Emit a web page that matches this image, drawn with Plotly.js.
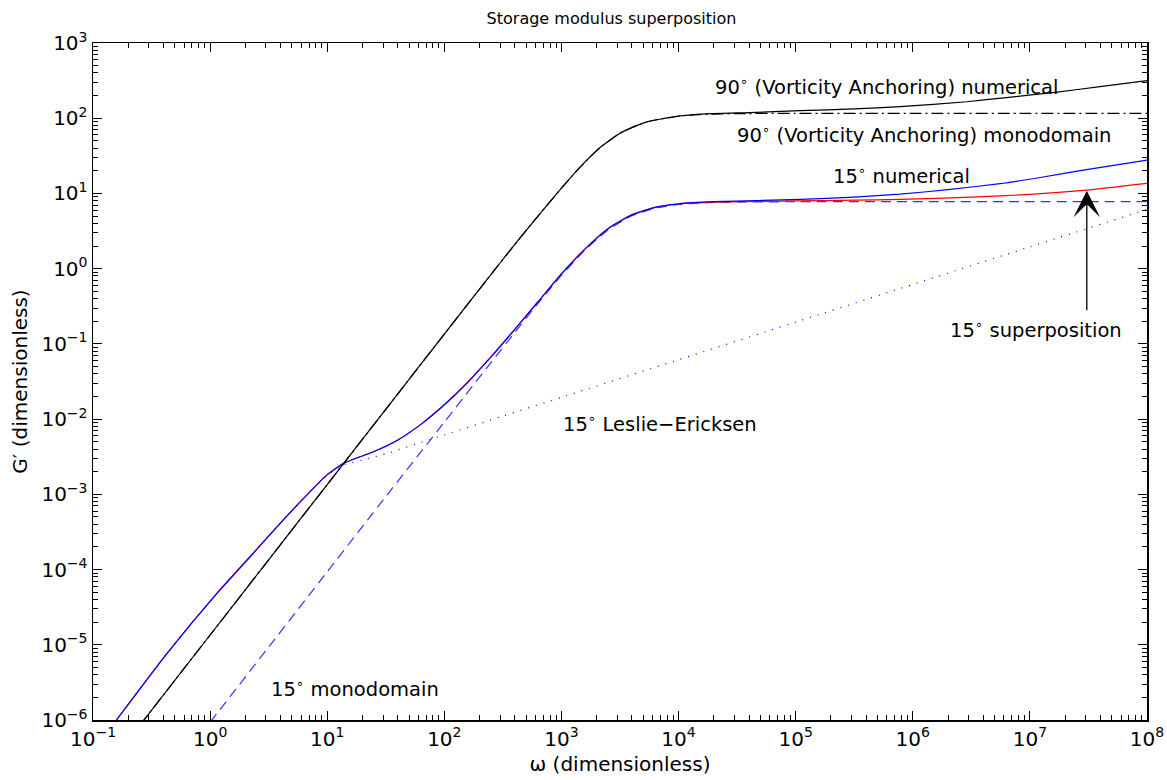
<!DOCTYPE html>
<html>
<head>
<meta charset="utf-8">
<script src="https://cdn.plot.ly/plotly-3.0.1.min.js"></script>
<style>html,body{margin:0;padding:0;background:#fff;}#chart{width:1167px;height:780px;}</style>
</head>
<body>
<div id="chart"></div>
<script>
// ---- Data (stored as log10 of omega and log10 of G') ----
// 90 deg (Vorticity Anchoring) numerical
const num90LogW = [-0.60, 0.0, 0.5, 1.0, 1.5, 2.0, 2.362, 2.6, 2.8, 3.0, 3.159, 3.33, 3.5, 3.6, 3.728, 3.85, 4.013, 4.27, 4.6, 5.038, 5.5, 5.891, 6.461, 6.8, 7.215, 7.6, 8.0];
const num90LogG = [-6.07, -4.87, -3.87, -2.87, -1.87, -0.87, -0.15, 0.32, 0.70, 1.07, 1.35, 1.61, 1.80, 1.875, 1.952, 1.99, 2.03, 2.06, 2.075, 2.10, 2.124, 2.153, 2.219, 2.275, 2.344, 2.42, 2.499];
// 90 deg (Vorticity Anchoring) monodomain
const mono90LogW = [-0.60, 0.0, 0.5, 1.0, 1.5, 2.0, 2.362, 2.6, 2.8, 3.0, 3.159, 3.33, 3.5, 3.6, 3.728, 3.85, 4.013, 4.27, 4.6, 5.0, 6.0, 7.0, 8.0];
const mono90LogG = [-6.07, -4.87, -3.87, -2.87, -1.87, -0.87, -0.15, 0.32, 0.70, 1.07, 1.35, 1.61, 1.80, 1.875, 1.952, 1.99, 2.03, 2.055, 2.062, 2.065, 2.065, 2.065, 2.065];
// 15 deg numerical
const num15LogW = [-0.80, -0.371, 0.056, 0.341, 0.625, 0.825, 0.996, 1.137, 1.28, 1.4, 1.6, 1.8, 2.0, 2.2, 2.4, 2.6, 2.8, 3.0, 3.2, 3.4, 3.6, 3.8, 4.0, 4.3, 5.038, 5.5, 5.89, 6.3, 6.746, 7.1, 7.457, 8.0];
const num15LogG = [-6.00, -5.12, -4.32, -3.83, -3.34, -3.01, -2.745, -2.59, -2.50, -2.43, -2.28, -2.07, -1.81, -1.51, -1.17, -0.81, -0.44, -0.07, 0.26, 0.535, 0.715, 0.815, 0.862, 0.89, 0.92, 0.952, 0.99, 1.05, 1.13, 1.215, 1.311, 1.444];
// 15 deg superposition
const sup15LogW = [-0.80, -0.371, 0.056, 0.341, 0.625, 0.825, 0.996, 1.137, 1.28, 1.4, 1.6, 1.8, 2.0, 2.2, 2.4, 2.6, 2.8, 3.0, 3.2, 3.4, 3.6, 3.8, 4.0, 4.3, 5.0, 5.5, 5.89, 6.5, 7.0, 7.486, 8.0];
const sup15LogG = [-6.00, -5.12, -4.32, -3.83, -3.34, -3.01, -2.745, -2.59, -2.50, -2.43, -2.28, -2.07, -1.81, -1.51, -1.17, -0.81, -0.44, -0.07, 0.26, 0.535, 0.715, 0.815, 0.86, 0.885, 0.90, 0.91, 0.922, 0.95, 0.987, 1.045, 1.134];
// 15 deg monodomain
const mono15LogW = [0.0, 0.5, 1.0, 1.5, 2.0, 2.4, 2.6, 2.8, 3.0, 3.2, 3.4, 3.6, 3.8, 4.0, 4.3, 4.6, 5.0, 6.0, 7.0, 8.0];
const mono15LogG = [-6.03, -5.03, -4.03, -3.03, -2.04, -1.245, -0.85, -0.46, -0.09, 0.246, 0.518, 0.703, 0.805, 0.854, 0.88, 0.887, 0.89, 0.89, 0.89, 0.89];
// 15 deg Leslie-Ericksen
const le15LogW = [-0.80, -0.371, 0.056, 0.341, 0.625, 0.825, 0.996, 1.137, 1.3, 1.5, 2.0, 2.5, 3.0, 4.0, 5.0, 6.0, 7.0, 8.0];
const le15LogG = [-6.00, -5.12, -4.32, -3.83, -3.34, -3.01, -2.75, -2.61, -2.545, -2.46, -2.21, -1.96, -1.71, -1.21, -0.71, -0.21, 0.29, 0.787];

// Axis ticks
const xTickExp = [-1, 0, 1, 2, 3, 4, 5, 6, 7, 8];
const yTickExp = [-6, -5, -4, -3, -2, -1, 0, 1, 2, 3];
const xTickLabels = ['10<sup>\u22121</sup>','10<sup>0</sup>','10<sup>1</sup>','10<sup>2</sup>','10<sup>3</sup>','10<sup>4</sup>','10<sup>5</sup>','10<sup>6</sup>','10<sup>7</sup>','10<sup>8</sup>'];
const yTickLabels = ['10<sup>\u22126</sup>','10<sup>\u22125</sup>','10<sup>\u22124</sup>','10<sup>\u22123</sup>','10<sup>\u22122</sup>','10<sup>\u22121</sup>','10<sup>0</sup>','10<sup>1</sup>','10<sup>2</sup>','10<sup>3</sup>'];

const pw = a => a.map(v => Math.pow(10, v));
function minorVals(exps) {
  const out = [];
  for (let i = 0; i < exps.length - 1; i++) for (let m = 2; m <= 9; m++) out.push(m * Math.pow(10, exps[i]));
  return out;
}

const FONT = 'DejaVu Sans, Liberation Sans, Arial, sans-serif';
const sp = {shape: 'spline', smoothing: 0.5};
const traces = [
  {x: pw(le15LogW), y: pw(le15LogG), mode: 'lines', line: Object.assign({color: '#0000ff', width: 1.2, dash: '1px,7px'}, sp)},
  {x: pw(mono15LogW), y: pw(mono15LogG), mode: 'lines', line: Object.assign({color: '#3333ff', width: 1.2, dash: '10px,6px'}, sp)},
  {x: pw(sup15LogW), y: pw(sup15LogG), mode: 'lines', line: Object.assign({color: '#ff0000', width: 1.2}, sp)},
  {x: pw(num15LogW), y: pw(num15LogG), mode: 'lines', line: Object.assign({color: '#0000ff', width: 1.2}, sp)},
  {x: pw(mono90LogW), y: pw(mono90LogG), mode: 'lines', line: Object.assign({color: '#000000', width: 1.2, dash: '12px,4px,2px,4px'}, sp)},
  {x: pw(num90LogW), y: pw(num90LogG), mode: 'lines', line: Object.assign({color: '#000000', width: 1.2}, sp)}
];

const deg = '<sup>\u2218</sup>';
const annFont = {family: FONT, size: 19.5, color: '#000'};
function label(text, lx, ly) {
  return {text: text, x: lx, y: ly, xref: 'x', yref: 'y', xanchor: 'left', yanchor: 'middle', showarrow: false, font: annFont};
}
const annotations = [
  label('90' + deg + ' (Vorticity Anchoring) numerical', 4.29, 2.43),
  label('90' + deg + ' (Vorticity Anchoring) monodomain', 4.485, 1.79),
  label('15' + deg + ' numerical', 5.30, 1.245),
  label('15' + deg + ' superposition', 6.30, -0.80),
  label('15' + deg + ' Leslie\u2212Ericksen', 3.0, -2.05),
  label('15' + deg + ' monodomain', 0.50, -5.58),
  {x: 7.486, y: 1.036, xref: 'x', yref: 'y', text: '', showarrow: true, axref: 'pixel', ayref: 'pixel', ax: 0, ay: 121,
   arrowhead: 3, arrowsize: 3.4, arrowwidth: 1.3, arrowcolor: '#000'}
];

const axisCommon = {
  type: 'log', showgrid: false, zeroline: false, showline: true, linecolor: '#000', linewidth: 1.5,
  mirror: 'allticks', ticks: 'inside', ticklen: 9, tickwidth: 1, tickcolor: '#000',
  tickmode: 'array', tickfont: {family: FONT, size: 20, color: '#000'}
};

const layout = {
  width: 1167, height: 780,
  margin: {l: 93, r: 20, t: 43, b: 60},
  paper_bgcolor: '#fff', plot_bgcolor: '#fff',
  showlegend: false,
  font: {family: FONT, color: '#000'},
  title: {text: 'Storage modulus superposition', font: {family: FONT, size: 16, color: '#000'}, x: 0.524, xanchor: 'center', y: 0.977, yanchor: 'middle'},
  xaxis: Object.assign({}, axisCommon, {
    range: [-1, 8], tickvals: pw(xTickExp), ticktext: xTickLabels,
    minor: {tickmode: 'array', tickvals: minorVals(xTickExp), ticks: 'inside', ticklen: 5, tickcolor: '#000', showgrid: false},
    title: {text: '\u03c9 (dimensionless)', font: {family: FONT, size: 20, color: '#000'}, standoff: 7}
  }),
  yaxis: Object.assign({}, axisCommon, {
    range: [-6, 3], tickvals: pw(yTickExp), ticktext: yTickLabels,
    minor: {tickmode: 'array', tickvals: minorVals(yTickExp), ticks: 'inside', ticklen: 5, tickcolor: '#000', showgrid: false},
    title: {text: 'G\u2032 (dimensionless)', font: {family: FONT, size: 20, color: '#000'}, standoff: 8}
  }),
  annotations: annotations
};

Plotly.newPlot('chart', traces, layout, {displayModeBar: false, staticPlot: true});
</script>
</body>
</html>
